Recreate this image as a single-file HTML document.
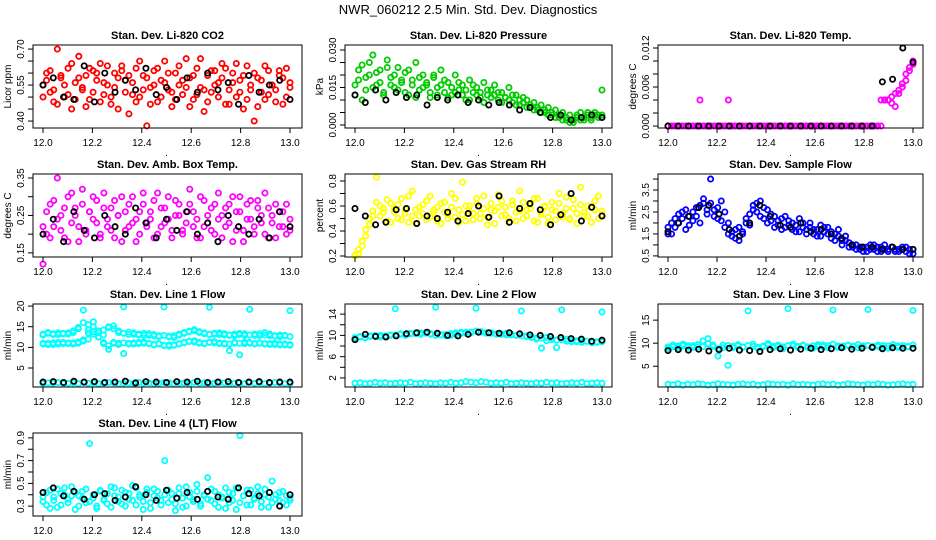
<!DOCTYPE html>
<html><head><meta charset="utf-8"><style>
html,body{margin:0;padding:0;background:#fff}
svg{display:block;font-family:"Liberation Sans",sans-serif}
</style></head><body>
<svg id="c" width="936" height="540" viewBox="0 0 936 540">
<text x="468" y="14" text-anchor="middle" font-size="13">NWR_060212  2.5 Min. Std. Dev. Diagnostics</text>
</svg>
<script>
// ---- data ----
const co2Col=[0.55,0.60,0.52,0.48,0.70,0.58,0.50,0.62,0.45,0.56,0.67,0.53,0.59,0.49,0.61,0.57,0.64,0.51,0.55,0.47,0.60,0.58,0.63,0.52,0.43,0.56,0.62,0.50,0.59,0.38,0.54,0.61,0.48,0.57,0.65,0.53,0.46,0.60,0.55,0.51,0.66,0.58,0.49,0.62,0.54,0.44,0.59,0.52,0.61,0.56,0.64,0.47,0.53,0.60,0.50,0.57,0.45,0.63,0.55,0.40,0.58,0.52,0.49,0.61,0.55,0.53,0.59,0.47,0.62,0.54];
const co2Col2=[0.50,0.57,0.61,0.53,0.47,0.59,0.55,0.51,0.64,0.49,0.58,0.54,0.46,0.62,0.52,0.60,0.48,0.56,0.63,0.50,0.54,0.45,0.61,0.57,0.59,0.51,0.48,0.65,0.53,0.58,0.47,0.55,0.62,0.50,0.56,0.60,0.52,0.49,0.63,0.57,0.54,0.46,0.59,0.51,0.66,0.53,0.48,0.61,0.55,0.50,0.58,0.62,0.47,0.56,0.64,0.52,0.59,0.49,0.53,0.60,0.46,0.57,0.63,0.51,0.55,0.48,0.61,0.58,0.50,0.56];
const co2Blk=[0.55,0.58,0.50,0.49,0.63,0.48,0.60,0.52,0.57,0.53,0.62,0.51,0.54,0.49,0.58,0.52,0.60,0.53,0.56,0.47,0.59,0.52,0.55,0.57,0.49];
const presCol=[0.012,0.018,0.024,0.014,0.020,0.028,0.016,0.022,0.013,0.026,0.019,0.015,0.023,0.017,0.021,0.012,0.018,0.025,0.014,0.020,0.016,0.011,0.019,0.015,0.022,0.013,0.017,0.012,0.020,0.014,0.016,0.010,0.018,0.013,0.015,0.011,0.017,0.012,0.014,0.016,0.010,0.013,0.011,0.015,0.009,0.012,0.008,0.011,0.010,0.007,0.009,0.006,0.008,0.005,0.007,0.004,0.006,0.003,0.005,0.002,0.004,0.001,0.003,0.005,0.002,0.004,0.003,0.005,0.004,0.014];
const presCol2=[0.016,0.022,0.010,0.019,0.025,0.015,0.021,0.017,0.012,0.023,0.016,0.020,0.014,0.018,0.013,0.022,0.016,0.011,0.019,0.015,0.017,0.013,0.020,0.012,0.016,0.018,0.011,0.015,0.013,0.017,0.012,0.014,0.010,0.016,0.012,0.013,0.009,0.014,0.011,0.012,0.013,0.009,0.011,0.010,0.012,0.008,0.010,0.009,0.007,0.008,0.006,0.007,0.005,0.006,0.004,0.005,0.003,0.004,0.002,0.003,0.001,0.002,0.004,0.002,0.003,0.005,0.002,0.004,0.003,0.004];
const presBlk=[0.012,0.009,0.014,0.010,0.013,0.011,0.012,0.008,0.011,0.010,0.012,0.009,0.010,0.008,0.009,0.008,0.006,0.007,0.005,0.003,0.004,0.002,0.003,0.004,0.003];
const tempCol=[0,0,0,0,0,0,0,0,0,0.004,0,0,0,0,0,0,0,0.004,0,0,0,0,0,0,0,0,0,0,0,0,0,0,0,0,0,0,0,0,0,0,0,0,0,0,0,0,0,0,0,0,0,0,0,0,0,0,0,0,0,0,0.004,0.004,0.004,0.0045,0.003,0.005,0.006,0.007,0.009,0.010];
const tempCol2=[0,0,0,0,0,0,0,0,0,0,0,0,0,0,0,0,0,0,0,0,0,0,0,0,0,0,0,0,0,0,0,0,0,0,0,0,0,0,0,0,0,0,0,0,0,0,0,0,0,0,0,0,0,0,0,0,0,0,0,0,0,0.004,0.004,0.0035,0.005,0.0055,0.0065,0.008,0.0085,0.0095];
const tempBlk=[0,0,0,0,0,0,0,0,0,0,0,0,0,0,0,0,0,0,0,0,0,0.0068,0.0072,0.012,0.0098];
const boxCol=[0.12,0.20,0.28,0.22,0.35,0.25,0.19,0.30,0.23,0.27,0.18,0.32,0.21,0.26,0.24,0.29,0.20,0.31,0.22,0.27,0.19,0.25,0.30,0.21,0.28,0.23,0.18,0.26,0.31,0.22,0.24,0.29,0.20,0.27,0.23,0.30,0.19,0.25,0.28,0.21,0.26,0.32,0.22,0.24,0.19,0.29,0.23,0.27,0.20,0.31,0.25,0.22,0.28,0.18,0.26,0.30,0.21,0.24,0.29,0.20,0.27,0.23,0.31,0.19,0.25,0.28,0.22,0.26,0.20,0.24];
const boxCol2=[0.22,0.26,0.19,0.29,0.24,0.21,0.27,0.18,0.31,0.25,0.22,0.28,0.20,0.26,0.30,0.23,0.19,0.27,0.24,0.21,0.29,0.25,0.18,0.26,0.22,0.30,0.24,0.20,0.28,0.23,0.26,0.19,0.31,0.22,0.27,0.24,0.21,0.29,0.25,0.20,0.23,0.28,0.26,0.19,0.30,0.22,0.25,0.21,0.28,0.24,0.19,0.27,0.23,0.30,0.21,0.26,0.18,0.28,0.24,0.22,0.29,0.25,0.20,0.27,0.23,0.19,0.26,0.22,0.28,0.21];
const boxBlk=[0.20,0.24,0.18,0.26,0.21,0.19,0.25,0.22,0.20,0.27,0.23,0.19,0.24,0.21,0.26,0.20,0.23,0.18,0.25,0.22,0.20,0.24,0.19,0.26,0.22];
const rhCol=[0.20,0.22,0.28,0.36,0.45,0.52,0.83,0.60,0.55,0.48,0.62,0.58,0.50,0.66,0.54,0.47,0.72,0.57,0.52,0.61,0.49,0.68,0.55,0.59,0.46,0.63,0.53,0.70,0.51,0.57,0.79,0.48,0.60,0.54,0.66,0.50,0.58,0.45,0.62,0.56,0.69,0.52,0.59,0.47,0.64,0.55,0.72,0.50,0.57,0.61,0.48,0.66,0.53,0.59,0.46,0.63,0.56,0.70,0.51,0.58,0.49,0.65,0.54,0.75,0.52,0.60,0.47,0.57,0.68,0.53];
const rhCol2=[0.21,0.25,0.32,0.41,0.50,0.56,0.63,0.52,0.58,0.65,0.47,0.55,0.61,0.49,0.57,0.68,0.52,0.46,0.59,0.54,0.64,0.51,0.57,0.48,0.62,0.55,0.50,0.59,0.66,0.47,0.53,0.60,0.56,0.49,0.62,0.54,0.68,0.51,0.57,0.46,0.59,0.64,0.53,0.50,0.61,0.48,0.56,0.63,0.52,0.58,0.66,0.47,0.55,0.60,0.51,0.57,0.49,0.62,0.54,0.67,0.50,0.58,0.46,0.61,0.55,0.52,0.59,0.64,0.50,0.56];
const rhBlk=[0.58,0.52,0.45,0.47,0.57,0.58,0.46,0.52,0.50,0.55,0.48,0.54,0.60,0.51,0.68,0.47,0.58,0.62,0.57,0.45,0.53,0.70,0.48,0.59,0.52];
const flowCol=[1.8,1.5,2.2,2.0,2.5,1.7,2.3,2.1,2.7,2.0,2.9,2.4,4.0,2.6,2.2,3.0,2.5,2.0,1.6,1.3,1.8,1.5,2.2,1.9,2.6,2.9,2.3,2.7,2.0,2.4,1.8,2.1,1.7,2.3,1.9,2.0,1.6,2.2,1.8,1.5,2.0,1.7,1.4,1.9,1.6,1.8,1.3,1.5,1.7,1.2,1.4,1.1,0.9,1.0,0.8,0.9,0.7,1.0,0.8,0.9,0.7,1.0,0.8,0.9,0.7,0.8,0.9,0.7,0.8,0.6];
const flowCol2=[1.5,2.0,1.8,2.4,2.2,2.6,1.9,2.5,2.3,2.8,3.1,2.6,2.9,2.3,2.7,2.1,1.8,1.5,1.4,1.7,1.2,1.6,2.0,2.4,2.8,2.5,3.0,2.2,2.6,2.1,2.3,1.9,2.2,1.8,2.1,1.7,1.9,1.6,2.0,1.7,1.8,1.5,1.7,1.4,1.8,1.5,1.6,1.2,1.4,1.0,1.2,0.9,1.0,0.8,0.9,0.7,0.9,0.8,1.0,0.7,0.9,0.8,0.7,0.9,0.8,0.7,0.8,0.9,0.6,0.8];
const flowBlk=[1.6,2.0,2.3,2.7,2.8,2.4,1.7,1.4,2.0,2.8,2.3,1.9,1.8,2.0,1.6,1.7,1.5,1.3,1.0,0.9,0.9,0.8,0.9,0.8,0.8];
const l1Upper=[13.2,13.4,13.1,13.5,13.3,13.2,13.6,14.5,19.0,15.5,13.8,12.5,13.0,14.8,15.2,14.0,19.8,13.7,13.2,13.0,13.4,12.9,13.1,12.8,19.8,12.7,12.4,13.2,13.6,13.9,14.3,13.8,13.5,19.7,13.4,13.1,13.3,13.0,12.8,13.4,12.9,19.2,13.2,12.8,13.6,13.2,12.8,12.6,12.9,18.9];
const l1Upper2=[13.0,13.6,13.3,13.1,13.4,13.5,14.0,14.8,16.0,14.2,13.2,13.5,14.2,15.0,14.5,13.6,13.4,13.1,13.5,13.2,12.9,13.3,12.8,12.6,12.9,12.5,12.8,13.0,13.4,13.8,14.0,13.6,13.3,13.1,13.2,13.5,13.0,12.9,13.2,13.1,13.3,13.0,12.9,13.3,13.0,12.8,12.7,13.0,12.8,12.6];
const l1Lower=[10.8,11.0,10.7,11.2,10.9,11.1,10.8,11.0,11.5,12.0,16.2,14.0,10.9,9.5,11.2,11.0,8.5,10.8,11.1,10.9,11.3,11.0,10.7,10.9,10.5,10.3,10.6,10.8,11.2,11.5,11.3,11.0,10.9,11.2,11.4,11.1,10.8,9.2,11.0,8.2,11.3,11.0,10.8,11.1,10.9,10.7,11.0,10.6,10.8,10.5];
const l1Lower2=[11.0,10.7,11.1,10.8,11.2,10.9,11.1,11.3,11.8,13.5,15.0,12.5,11.2,10.4,11.0,10.7,11.1,11.0,10.8,11.2,11.0,10.9,10.6,10.8,10.4,10.6,10.5,10.9,11.1,11.4,11.6,11.2,11.0,11.3,11.1,10.9,11.0,10.8,11.2,11.0,10.9,11.2,10.9,11.0,10.8,10.9,10.7,10.8,10.6,10.7];
const l1Bottom=[1.2,1.4,1.3,1.5,1.2,1.3,1.4,1.2,1.5,1.3,1.4,1.2,1.3,1.5,1.4,1.2,1.3,1.4,1.2,1.5,1.3,1.4,1.2,1.3,1.5,1.4,1.2,1.3,1.4,1.2,1.5,1.3,1.4,1.2,1.3,1.5,1.4,1.2,1.3,1.4,1.2,1.5,1.3,1.4,1.2,1.3,1.5,1.4,1.2,1.3];
const l1Blk=[1.6,1.7,1.5,1.8,1.6,1.7,1.5,1.6,1.8,1.4,1.7,1.6,1.5,1.7,1.6,1.8,1.5,1.6,1.7,1.5,1.6,1.7,1.5,1.6,1.6];
const l2Upper=[9.6,9.8,9.5,9.9,10.0,9.7,9.8,10.1,15.0,10.2,10.0,10.3,10.4,10.2,10.5,10.3,15.3,10.1,9.9,10.0,10.2,10.4,10.6,10.5,15.1,10.7,10.5,10.4,10.3,10.2,10.4,10.1,10.0,14.6,9.9,9.7,9.5,7.6,9.6,9.2,7.7,14.8,9.3,9.0,8.8,9.1,8.9,8.7,8.8,14.4];
const l2Upper2=[9.4,9.7,9.6,9.8,9.9,10.0,9.9,10.0,10.1,10.3,10.2,10.4,10.3,10.5,10.4,10.2,10.0,10.1,10.2,10.3,10.5,10.6,10.4,10.6,10.8,10.6,10.4,10.5,10.2,10.3,10.1,10.2,10.0,9.9,9.8,9.6,9.3,9.5,9.0,9.4,9.1,9.2,8.9,8.8,9.0,8.7,8.9,8.6,8.7,8.8];
const l2Lower=[1.0,1.1,0.9,1.0,1.2,1.0,1.1,0.9,1.0,1.1,1.0,1.2,0.9,1.0,1.1,1.0,0.9,1.1,1.0,1.2,1.0,1.1,1.3,1.2,1.1,1.3,1.2,1.0,1.1,1.0,1.2,0.9,1.0,1.1,1.0,0.9,1.1,1.0,1.2,1.0,1.1,0.9,1.0,1.1,1.0,1.2,0.9,1.0,1.1,1.0];
const l2Blk=[9.2,10.2,9.8,9.7,9.9,10.3,10.5,10.6,10.4,10.0,9.9,10.2,10.6,10.5,10.4,10.5,10.3,10.1,10.0,9.8,9.6,9.4,9.3,8.9,9.1];
const l3Upper=[8.8,9.2,9.0,9.4,9.1,9.5,9.2,10.5,11.0,9.3,7.2,9.6,5.2,9.0,9.4,9.1,17.0,9.3,8.9,9.2,9.6,9.0,9.3,8.8,17.5,9.4,9.1,9.5,9.2,8.9,9.3,9.6,9.0,17.2,9.4,9.1,9.5,9.2,9.0,9.4,17.3,9.1,9.3,9.5,8.9,9.2,9.4,9.0,9.3,17.1];
const l3Upper2=[9.2,9.6,9.4,9.8,9.5,9.1,9.7,9.3,9.9,9.6,8.8,9.0,9.5,9.3,9.7,9.2,9.5,9.8,9.1,9.4,9.9,9.3,9.6,9.2,9.5,9.8,9.3,9.6,9.0,9.4,9.7,9.2,9.5,9.8,9.1,9.4,9.6,9.3,9.7,9.2,9.5,9.3,9.6,9.0,9.4,9.7,9.1,9.5,9.2,9.6];
const l3Lower=[1.1,1.0,1.2,0.9,1.1,1.0,1.2,1.1,0.9,1.0,1.2,1.1,1.0,0.9,1.1,1.2,1.0,1.1,0.9,1.0,1.2,1.1,1.0,1.1,0.9,1.2,1.0,1.1,1.0,0.9,1.1,1.2,1.0,1.1,0.9,1.0,1.2,1.1,1.0,0.9,1.1,1.0,1.2,1.1,0.9,1.0,1.1,1.2,1.0,1.1];
const l3Blk=[8.4,8.6,8.5,8.7,8.3,8.6,8.9,8.5,8.4,8.2,8.6,8.8,8.5,8.7,8.9,8.6,8.8,9.0,8.7,8.9,9.1,8.8,9.0,8.9,8.9];
const l4Col=[0.34,0.42,0.28,0.38,0.45,0.31,0.40,0.36,0.47,0.27,0.39,0.43,0.33,0.85,0.37,0.30,0.44,0.35,0.41,0.29,0.46,0.38,0.32,0.42,0.36,0.48,0.31,0.40,0.34,0.45,0.28,0.39,0.43,0.35,0.70,0.33,0.41,0.26,0.46,0.37,0.30,0.42,0.36,0.49,0.32,0.40,0.55,0.35,0.43,0.29,0.38,0.46,0.33,0.41,0.27,0.92,0.39,0.44,0.31,0.37,0.47,0.34,0.40,0.29,0.52,0.36,0.42,0.33,0.39,0.35];
const l4Col2=[0.38,0.31,0.44,0.35,0.29,0.41,0.46,0.33,0.39,0.42,0.30,0.37,0.45,0.34,0.40,0.28,0.43,0.36,0.32,0.47,0.39,0.34,0.44,0.30,0.41,0.35,0.46,0.38,0.27,0.42,0.33,0.45,0.37,0.31,0.40,0.44,0.36,0.32,0.41,0.29,0.47,0.38,0.34,0.43,0.30,0.39,0.36,0.45,0.32,0.40,0.37,0.28,0.42,0.35,0.46,0.33,0.39,0.31,0.44,0.36,0.41,0.29,0.45,0.38,0.33,0.40,0.35,0.43,0.31,0.37];
const l4Blk=[0.42,0.46,0.39,0.43,0.36,0.40,0.41,0.35,0.38,0.47,0.40,0.35,0.44,0.37,0.42,0.36,0.43,0.38,0.36,0.46,0.41,0.39,0.42,0.30,0.40];
const xTicks=[12.0,12.2,12.4,12.6,12.8,13.0];
const xLabels=["12.0","12.2","12.4","12.6","12.8","13.0"];

// ---- layout ----
const NS="http://www.w3.org/2000/svg";
const svg=document.getElementById('c');
const colL=[33,345,658],colR=[302,612,923],x12=[43,355,668],x13=[290,602,913];
const rowT=[45,174,304,433],H=83;
function mk(tag,attrs,parent){const e=document.createElementNS(NS,tag);for(const k in attrs)e.setAttribute(k,attrs[k]);(parent||svg).appendChild(e);return e;}

const panels=[
 {name:'co2',title:'Stan. Dev. Li-820 CO2',ylab:'Licor ppm',c:0,r:0,ymin:0.371,ymax:0.717,ticks:[0.40,0.45,0.50,0.55,0.60,0.65,0.70],labels:{'0.4':'0.40','0.55':'0.55','0.7':'0.70'},series:[[co2Col,'#ff0000'],[co2Col2,'#ff0000']],blk:co2Blk},
 {name:'pressure',title:'Stan. Dev. Li-820 Pressure',ylab:'kPa',c:1,r:0,ymin:-0.0012,ymax:0.032,ticks:[0,0.005,0.01,0.015,0.02,0.025,0.03],labels:{'0':'0.000','0.015':'0.015','0.03':'0.030'},series:[[presCol,'#00cc00'],[presCol2,'#00cc00']],blk:presBlk},
 {name:'li820-temp',title:'Stan. Dev. Li-820 Temp.',ylab:'degrees C',c:2,r:0,ymin:-0.0003,ymax:0.01246,ticks:[0,0.002,0.004,0.006,0.008,0.01,0.012],labels:{'0':'0.000','0.006':'0.006','0.012':'0.012'},series:[[tempCol,'#ff00ff'],[tempCol2,'#ff00ff']],blk:tempBlk},
 {name:'box-temp',title:'Stan. Dev. Amb. Box Temp.',ylab:'degrees C',c:0,r:1,ymin:0.139,ymax:0.3607,ticks:[0.15,0.2,0.25,0.3,0.35],labels:{'0.15':'0.15','0.25':'0.25','0.35':'0.35'},series:[[boxCol,'#ff00ff'],[boxCol2,'#ff00ff']],blk:boxBlk},
 {name:'rh',title:'Stan. Dev. Gas Stream RH',ylab:'percent',c:1,r:1,ymin:0.192,ymax:0.856,ticks:[0.2,0.3,0.4,0.5,0.6,0.7,0.8],labels:{'0.2':'0.2','0.4':'0.4','0.6':'0.6','0.8':'0.8'},series:[[rhCol,'#ffff00'],[rhCol2,'#ffff00']],blk:rhBlk},
 {name:'sample-flow',title:'Stan. Dev. Sample Flow',ylab:'ml/min',c:2,r:1,ymin:0.45,ymax:4.23,ticks:[0.5,1,1.5,2,2.5,3,3.5,4],labels:{'0.5':'0.5','1.5':'1.5','2.5':'2.5','3.5':'3.5'},series:[[flowCol,'#0000ff'],[flowCol2,'#0000ff']],blk:flowBlk},
 {name:'line1-flow',title:'Stan. Dev. Line 1 Flow',ylab:'ml/min',c:0,r:2,ymin:0.4,ymax:20.5,ticks:[5,10,15,20],labels:{'5':'5','10':'10','15':'15','20':'20'},series:[[l1Upper,'#00ffff'],[l1Upper2,'#00ffff'],[l1Lower,'#00ffff'],[l1Lower2,'#00ffff'],[l1Bottom,'#00ffff']],blk:l1Blk},
 {name:'line2-flow',title:'Stan. Dev. Line 2 Flow',ylab:'ml/min',c:1,r:2,ymin:0.3,ymax:15.9,ticks:[2,4,6,8,10,12,14],labels:{'2':'2','6':'6','10':'10','14':'14'},series:[[l2Upper,'#00ffff'],[l2Upper2,'#00ffff'],[l2Lower,'#00ffff']],blk:l2Blk},
 {name:'line3-flow',title:'Stan. Dev. Line 3 Flow',ylab:'ml/min',c:2,r:2,ymin:0.5,ymax:18.5,ticks:[5,10,15],labels:{'5':'5','10':'10','15':'15'},series:[[l3Upper,'#00ffff'],[l3Upper2,'#00ffff'],[l3Lower,'#00ffff']],blk:l3Blk},
 {name:'line4-flow',title:'Stan. Dev. Line 4 (LT) Flow',ylab:'ml/min',c:0,r:3,ymin:0.213,ymax:0.943,ticks:[0.3,0.4,0.5,0.6,0.7,0.8,0.9],labels:{'0.3':'0.3','0.5':'0.5','0.7':'0.7','0.9':'0.9'},series:[[l4Col,'#00ffff'],[l4Col2,'#00ffff']],blk:l4Blk}
];

panels.forEach(p=>{
  const L=colL[p.c],R=colR[p.c],T=rowT[p.r],B=T+H;
  const xs=v=>x12[p.c]+(v-12)*(x13[p.c]-x12[p.c]);
  const ys=v=>B-(v-p.ymin)/(p.ymax-p.ymin)*H;
  const g=mk('g',{});
  
  
  const t=mk('text',{x:(L+R)/2,y:T-6,'text-anchor':'middle','font-size':11,'font-weight':'bold'},g);
  t.textContent=p.title;
  
  
  const yl=mk('text',{x:0,y:0,'text-anchor':'middle','font-size':10,transform:`translate(${L-22},${(T+B)/2}) rotate(-90)`},g);
  yl.textContent=p.ylab;
  
  
  const pts=mk('g',{fill:'none','stroke-width':1.8},g);
  
  
  const drawSeries=(arr,col)=>{
    arr.forEach((v,i)=>{
      const xv=12+i/(arr.length-1);
      const cc=mk('circle',{cx:xs(xv),cy:ys(v),r:2.6,stroke:col},pts);
      
      
    });
  };
  p.series.forEach(s=>drawSeries(s[0],s[1]));
  drawSeries(p.blk,'#000');
  const bx=mk('rect',{x:L,y:T,width:R-L,height:H,fill:'none',stroke:'#000','stroke-width':1},g);
  
  
  const ya=mk('g',{},g);
  
  
  mk('line',{x1:L,x2:L,y1:ys(p.ticks[0]),y2:ys(p.ticks[p.ticks.length-1]),stroke:'#000'},ya);
  p.ticks.forEach(v=>{
    const y=ys(v);
    mk('line',{x1:L-5,x2:L,y1:y,y2:y,stroke:'#000'},ya);
    const lab=p.labels[String(+v.toFixed(4))];
    if(lab){
      const tt=mk('text',{x:0,y:0,'text-anchor':'middle','font-size':10,transform:`translate(${L-9},${y}) rotate(-90)`},ya);
      tt.textContent=lab;
      
      
    }
  });
  const xa=mk('g',{},g);
  
  
  xTicks.forEach((v,i)=>{
    const x=xs(v);
    mk('line',{x1:x,x2:x,y1:B,y2:B+5,stroke:'#000'},xa);
    const tt=mk('text',{x:x,y:B+18,'text-anchor':'middle','font-size':10},xa);
    tt.textContent=xLabels[i];
    
    
  });
  const dot=mk('text',{x:(x12[p.c]+x13[p.c])/2,y:B+28,'text-anchor':'middle','font-size':10},xa);
  dot.textContent='.';
  
  
});
</script>
</body></html>
